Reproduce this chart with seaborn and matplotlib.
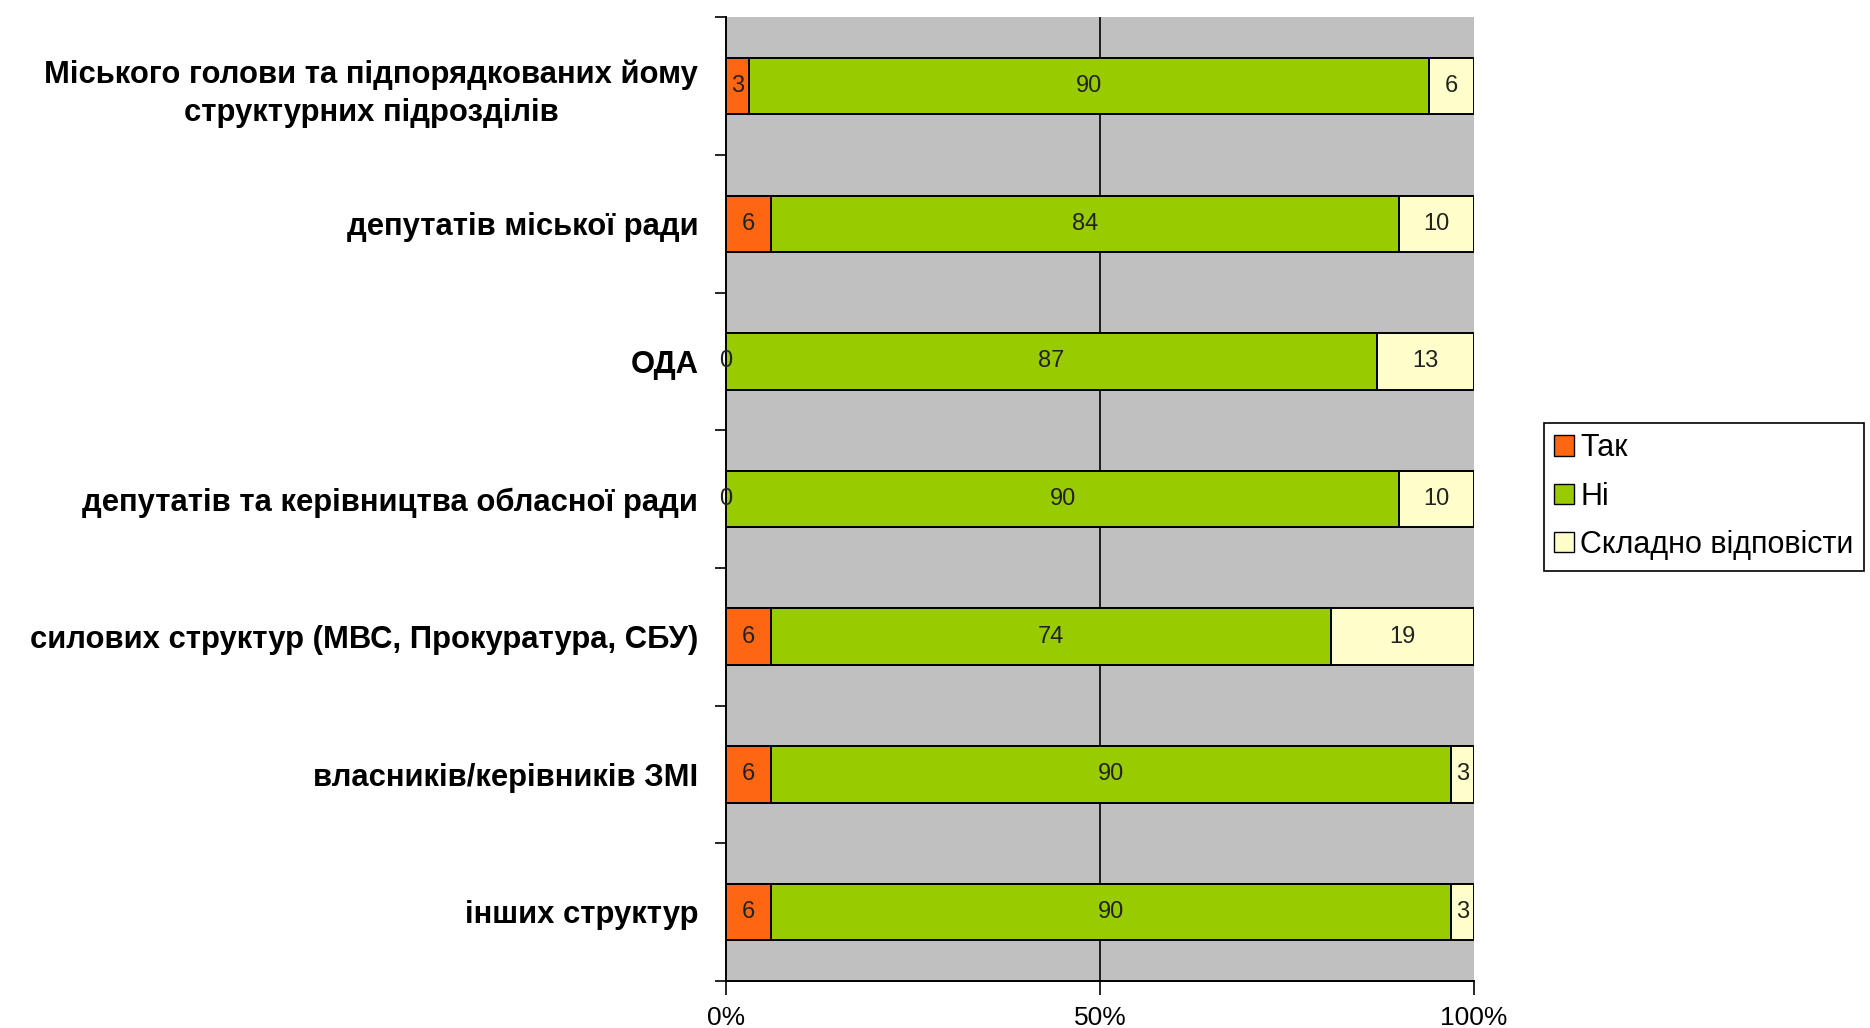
import matplotlib
matplotlib.use("Agg")
import matplotlib.pyplot as plt
import seaborn as sns
import numpy as np
import pandas as pd
from matplotlib.patches import Patch
from matplotlib.ticker import FixedLocator

categories = [
    "Міського голови та підпорядкованих йому\nструктурних підрозділів",
    "депутатів міської ради",
    "ОДА",
    "депутатів та керівництва обласної ради",
    "силових структур (МВС, Прокуратура, СБУ)",
    "власників/керівників ЗМІ",
    "інших структур",
]
series_names = ["Так", "Ні", "Складно відповісти"]
tak = [3, 6, 0, 0, 6, 6, 6]
ni = [90, 84, 87, 90, 74, 90, 90]
skladno = [6, 10, 13, 10, 19, 3, 3]
x_ticks = [0, 50, 100]
x_tick_labels = ["0%", "50%", "100%"]

colors = ["#FF6611", "#99CC00", "#FFFFCC"]

sns.set_theme(style="white")
plt.rcParams["font.family"] = ["Liberation Sans", "DejaVu Sans"]
plt.rcParams["text.color"] = "black"
plt.rcParams["xtick.color"] = "black"
plt.rcParams["ytick.color"] = "black"

fig = plt.figure(figsize=(18.7, 10.28), dpi=100)
ax = fig.add_axes([0.3883, 0.046, 0.4, 0.937])
ax.set_facecolor("#C0C0C0")

vals = np.array([tak, ni, skladno], dtype=float)
totals = vals.sum(axis=0)
pct = vals / totals * 100
cum = np.cumsum(pct, axis=0)

df = pd.DataFrame({"cat": categories})
bar_h = 0.41
# draw from the cumulative total down so stacked segments appear
for i in [2, 1, 0]:
    df["v"] = cum[i]
    sns.barplot(data=df, y="cat", x="v", orient="h", color=colors[i],
                saturation=1, edgecolor="black", linewidth=1.4,
                width=bar_h, ax=ax, order=categories)

# value labels
for j in range(len(categories)):
    start = 0.0
    for i in range(3):
        w = pct[i, j]
        cx = start + w / 2
        ax.text(cx, j, f"{int(vals[i, j])}", ha="center", va="center",
                fontsize=17, color="#222222")
        start += w

ax.set_xlim(0, 100)
ax.set_ylim(len(categories) - 0.5, -0.5)
ax.axvline(50, color="black", lw=1.2, zorder=0.5)
ax.set_axisbelow(True)

ax.xaxis.set_major_locator(FixedLocator(x_ticks))
ax.set_xticklabels(x_tick_labels, fontsize=19, color="black")
ax.tick_params(axis="x", which="major", direction="out", length=10, width=1.2,
               color="black", pad=8, bottom=True)

ax.set_yticks(range(len(categories)))
ax.set_yticklabels(categories, fontsize=22.3, fontweight="bold",
                   multialignment="center", color="black", linespacing=1.35)
ax.tick_params(axis="y", which="major", length=0, pad=20)
ax.yaxis.set_minor_locator(FixedLocator(np.arange(-0.5, len(categories), 1.0)))
ax.tick_params(axis="y", which="minor", direction="out", length=8, width=1.2,
               color="black", left=True)

for s in ["top", "right"]:
    ax.spines[s].set_visible(False)
for s in ["left", "bottom"]:
    ax.spines[s].set_color("black")
    ax.spines[s].set_linewidth(1.4)
ax.set_xlabel("")
ax.set_ylabel("")

handles = [Patch(facecolor=c, edgecolor="black", linewidth=1.0) for c in colors]
leg = fig.legend(handles, series_names, loc="upper left",
                 bbox_to_anchor=(0.8255, 0.589), bbox_transform=fig.transFigure,
                 fontsize=22, frameon=True, fancybox=False, framealpha=1,
                 edgecolor="black", handlelength=0.65, handleheight=0.65,
                 handletextpad=0.2, labelspacing=0.6, borderpad=0.35,
                 borderaxespad=0)
leg.get_frame().set_linewidth(1.2)

fig.savefig("out.png", dpi=100, facecolor="white")
